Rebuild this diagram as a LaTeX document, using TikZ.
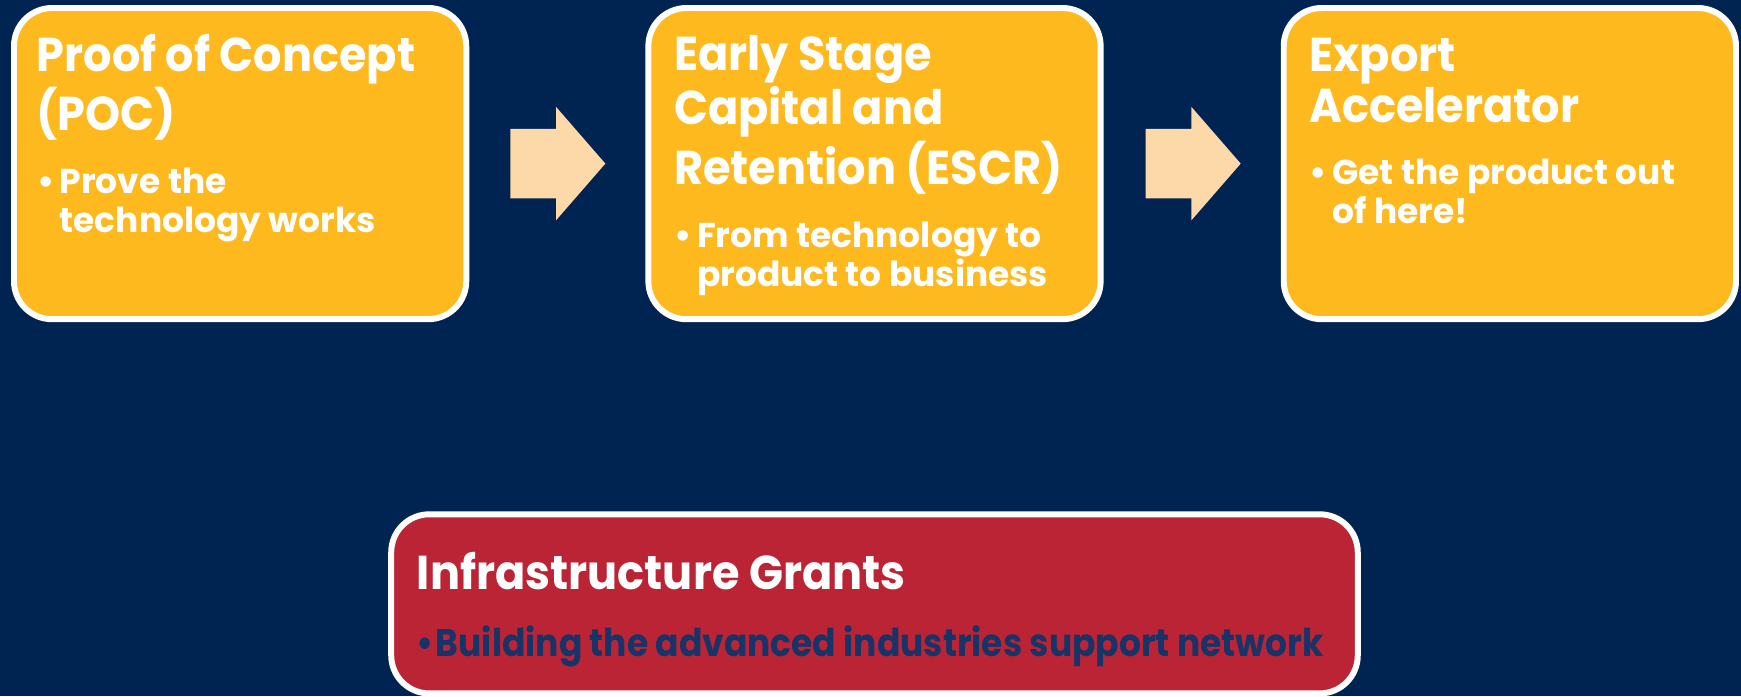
\documentclass[tikz,border=0pt]{standalone}
\usepackage{fontspec}
\setmainfont{Poppins}
\usetikzlibrary{positioning,shapes.arrows}

\definecolor{navyback}{RGB}{0,36,82}
\definecolor{stageyellow}{RGB}{253,185,30}
\definecolor{arrowpeach}{RGB}{253,216,168}
\definecolor{grantred}{RGB}{186,36,52}
\definecolor{grantnavy}{RGB}{22,52,104}

% Fonts for the box texts
\newcommand{\titlefont}{\normalfont\fontsize{13.5pt}{14.5pt}\bfseries\selectfont\addfontfeature{FakeStretch=0.94}}
\newcommand{\bulletfont}{\normalfont\fontsize{9.8pt}{11.1pt}\bfseries\selectfont}
% Title lines, then one bullet
\newcommand{\stagecontent}[2]{\vtop{\hsize=7cm\parindent=0pt\raggedright
  \titlefont #1\par\vspace{6.8pt}
  \bulletfont\leftskip=0.23cm\noindent\llap{\textbullet\hspace{1.5pt}}#2\par}}

\tikzset{
  stagebox/.style={draw=white, line width=1.7pt, fill=stageyellow, rounded corners=0.38cm,
    minimum width=4.52cm, minimum height=3.11cm, inner sep=0pt, outer sep=0pt},
  grantbox/.style={stagebox, fill=grantred, minimum width=9.66cm, minimum height=1.79cm},
  stagearrow/.style={single arrow, fill=arrowpeach, minimum height=0.95cm, inner xsep=0pt,
    inner ysep=0.34cm, single arrow head extend=0.22cm, single arrow tip angle=98, outer sep=0pt},
  stagetext/.style={anchor=base west, inner sep=0pt, text=white}
}

\begin{document}
\begin{tikzpicture}[x=0.01cm,y=-0.01cm]

% Background
\fill[navyback] (0,0) rectangle (1741,696);
\useasboundingbox (0,0) rectangle (1741,696);

% The three stages
\node[stagebox, anchor=north west] (poc) at (14,8) {};
\node[stagebox, right=1.82cm of poc] (escr) {};
\node[stagebox, right=1.83cm of escr] (export) {};

% Arrows between the stages
\node[stagearrow, right=0.44cm of poc] (arrone) {};
\node[stagearrow, right=0.45cm of escr] (arrtwo) {};

% Infrastructure box
\node[grantbox, below=1.95cm of escr] (grants) {};

% Stage texts
\node[stagetext] (poctext) at ([shift={(22,63)}]poc.north west)
  {\stagecontent{Proof of Concept\\(POC)}{Prove the\\technology works}};
\node[stagetext] (escrtext) at ([shift={(25,62)}]escr.north west)
  {\stagecontent{Early Stage\\Capital and\\Retention (ESCR)}{From technology to\\product to business}};
\node[stagetext] (exporttext) at ([shift={(25,63)}]export.north west)
  {\stagecontent{Export\\Accelerator}{Get the product out\\of here!}};

% Infrastructure text
\node[stagetext] (grantstext) at ([shift={(25,75)}]grants.north west)
  {\vtop{\hsize=10cm\parindent=0pt\raggedright
    \titlefont Infrastructure Grants\par\vspace{7.1pt}
    \normalfont\fontsize{10.9pt}{12pt}\bfseries\selectfont\addfontfeature{FakeStretch=0.9}\color{grantnavy}\leftskip=0.19cm
    \noindent\llap{\textbullet\hspace{0.5pt}}Building the advanced industries support network\par}};

\end{tikzpicture}
\end{document}
